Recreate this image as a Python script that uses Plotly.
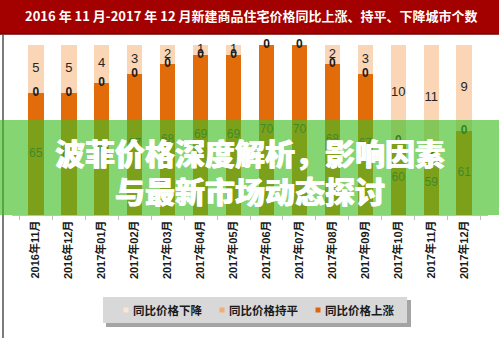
import plotly.graph_objects as go

# ---------------- data ----------------
months = ["2016年11月", "2016年12月", "2017年01月", "2017年02月", "2017年03月",
          "2017年04月", "2017年05月", "2017年06月", "2017年07月", "2017年08月",
          "2017年09月", "2017年10月", "2017年11月", "2017年12月"]
up = [65, 65, 66, 67, 68, 69, 69, 70, 70, 68, 67, 60, 59, 61]
flat = [0, 0, 0, 0, 0, 0, 0, 0, 0, 0, 0, 0, 0, 0]
down = [5, 5, 4, 3, 2, 1, 1, 0, 0, 2, 3, 10, 11, 9]
series_names = ["同比价格下降", "同比价格持平", "同比价格上涨"]
title_text = "2016 年 11 月-2017 年 12 月新建商品住宅价格同比上涨、持平、下降城市个数"
banner_lines = ["波菲价格深度解析，影响因素", "与最新市场动态探讨"]

# ---------------- styles ----------------
W, H = 499, 338
L, R, T, B = 12, 11, 35, 123
Y_MIN, Y_MAX = 52.3, 71.04
C_DOWN, C_FLAT, C_UP = "#FAD5B6", "#F4B183", "#E36C0A"
LEG_DOWN, LEG_FLAT, LEG_UP = "#FCE6D4", "#F4AD72", "#D9660E"
FONT_LAT = "Liberation Sans, Arial, Noto Sans CJK SC"
FONT_CJK = "Noto Sans CJK SC, Liberation Sans"

pw, ph = W - L - R, H - T - B


def px(x):
    return (x - L) / pw


def py(y):
    return (H - B - y) / ph


fig = go.Figure()
fig.add_trace(go.Bar(x=months, y=up, name=series_names[2], marker_color=C_UP,
                     marker_line_width=0, showlegend=False))
fig.add_trace(go.Bar(x=months, y=flat, name=series_names[1], marker_color=C_FLAT,
                     marker_line_width=0, showlegend=False))
fig.add_trace(go.Bar(x=months, y=down, name=series_names[0], marker_color=C_DOWN,
                     marker_line_width=0, showlegend=False))

# data labels
fig.add_trace(go.Scatter(
    x=months, y=[(Y_MIN + u) / 2 for u in up], mode="text",
    text=[str(u) for u in up], textposition="middle center",
    textfont=dict(family=FONT_LAT, size=12, color="#333333"),
    showlegend=False, hoverinfo="skip", cliponaxis=False))
fig.add_trace(go.Scatter(
    x=months, y=[u + f for u, f in zip(up, flat)], mode="text",
    text=[str(f) for f in flat], textposition="middle center",
    textfont=dict(family=FONT_LAT, size=12, color="#1a1a1a", weight="bold"),
    showlegend=False, hoverinfo="skip", cliponaxis=False))
fig.add_trace(go.Scatter(
    x=months, y=[u + f + d / 2 for u, f, d in zip(up, flat, down)], mode="text",
    text=[str(d) if d > 0 else "" for d in down], textposition="middle center",
    textfont=dict(family=FONT_LAT, size=13, color="#262626"),
    showlegend=False, hoverinfo="skip", cliponaxis=False))

shapes = []
annotations = []

# header band
shapes.append(dict(type="rect", xref="paper", yref="paper",
                   x0=px(0), x1=px(W), y0=py(34), y1=py(0),
                   fillcolor="#A30000", line_width=0, layer="above"))
shapes.append(dict(type="line", xref="paper", yref="paper",
                   x0=px(0), x1=px(W), y0=py(34), y1=py(34),
                   line=dict(color="#6E0000", width=1.5), layer="above"))
annotations.append(dict(text=title_text, xref="paper", yref="paper",
                        x=px(251), y=py(16), showarrow=False,
                        xanchor="center", yanchor="middle",
                        font=dict(family=FONT_CJK, size=13, color="white", weight="bold")))

# left frame line
shapes.append(dict(type="line", xref="paper", yref="paper",
                   x0=px(3), x1=px(3), y0=py(34), y1=py(H),
                   line=dict(color="#505050", width=1.5), layer="above"))

# legend (drawn box)
shapes.append(dict(type="rect", xref="paper", yref="paper",
                   x0=px(106), x1=px(411), y0=py(327), y1=py(300),
                   fillcolor="rgba(90,90,90,0.55)", line_width=0, layer="above"))
shapes.append(dict(type="rect", xref="paper", yref="paper",
                   x0=px(103), x1=px(407), y0=py(323), y1=py(297),
                   fillcolor="#D8D8D8", line_width=0, layer="above"))
for name, col, mx in zip(series_names, [LEG_DOWN, LEG_FLAT, LEG_UP], [126, 222, 318]):
    shapes.append(dict(type="rect", xref="paper", yref="paper",
                       x0=px(mx - 2.5), x1=px(mx + 2.5), y0=py(312.5), y1=py(307.5),
                       fillcolor=col, line_width=0, layer="above"))
    annotations.append(dict(text=name, xref="paper", yref="paper",
                            x=px(mx + 5), y=py(310), xanchor="left", yanchor="middle",
                            showarrow=False,
                            font=dict(family=FONT_CJK, size=11.5, color="#1a1a1a", weight="bold")))

# green banner overlay
shapes.append(dict(type="rect", xref="paper", yref="paper",
                   x0=px(0), x1=px(W), y0=py(215), y1=py(120),
                   fillcolor="rgba(66,190,36,0.64)", line_width=0, layer="above"))
for line, cy in zip(banner_lines, [152, 190]):
    annotations.append(dict(text=line, xref="paper", yref="paper",
                            x=px(250), y=py(cy), showarrow=False,
                            xanchor="center", yanchor="middle",
                            font=dict(family=FONT_CJK, size=30, color="white", weight=900,
                                      shadow="0.6px 0px 0px #ffffff, -0.6px 0px 0px #ffffff")))

fig.update_layout(
    width=W, height=H, margin=dict(l=L, r=R, t=T, b=B),
    barmode="stack", bargap=0.53,
    plot_bgcolor="white", paper_bgcolor="white",
    shapes=shapes, annotations=annotations, showlegend=False,
    xaxis=dict(showline=True, linecolor="#BFBFBF", linewidth=1,
               ticks="outside", tickson="boundaries", ticklen=4, tickcolor="#BFBFBF",
               tickangle=-90, showgrid=False,
               tickfont=dict(family=FONT_LAT, size=11, color="#1a1a1a", weight="bold")),
    yaxis=dict(visible=False, range=[Y_MIN, Y_MAX], showgrid=False, zeroline=False),
)

fig.write_html("out.html")
